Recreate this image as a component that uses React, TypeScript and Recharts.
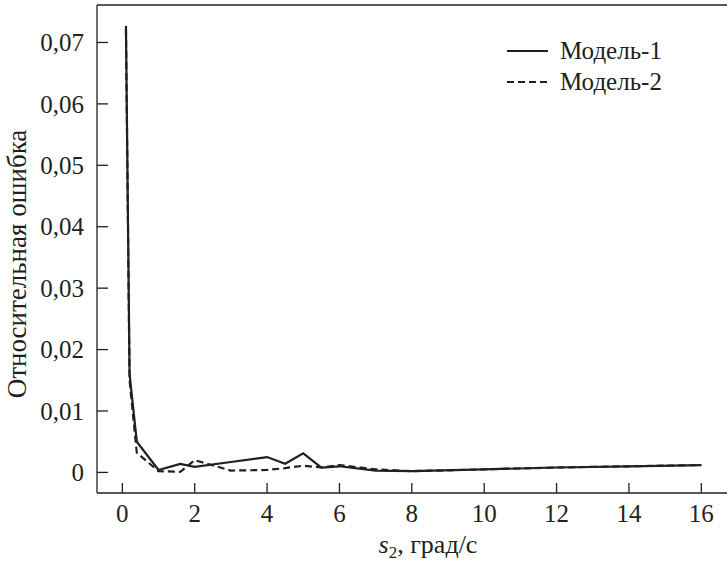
import { LineChart, Line, XAxis, YAxis, ReferenceLine } from "recharts";

const speeds = [0.1, 0.2, 0.4, 1, 1.6, 2, 3, 4, 4.5, 5, 5.5, 6, 7, 8, 10, 12, 14, 16];
const model1 = [0.0727, 0.016, 0.005, 0.0004, 0.0014, 0.0009, 0.0017, 0.0025, 0.0014, 0.0031, 0.0008, 0.001, 0.0003, 0.0002, 0.0005, 0.0008, 0.001, 0.0012];
const model2 = [0.0722, 0.015, 0.0032, 0.0002, 0.0001, 0.002, 0.0003, 0.0004, 0.0007, 0.0011, 0.0008, 0.0012, 0.0005, 0.0002, 0.0005, 0.0008, 0.001, 0.0012];
const yTicks = [0, 0.01, 0.02, 0.03, 0.04, 0.05, 0.06, 0.07];
const xTicks = [0, 2, 4, 6, 8, 10, 12, 14, 16];
const seriesNames = ["Модель-1", "Модель-2"];

const data = speeds.map((s, i) => ({ s, m1: model1[i], m2: model2[i] }));

const X_DOMAIN: [number, number] = [-0.7, 16.71];
const Y_DOMAIN: [number, number] = [-0.00335, 0.0761];

const FONT = '"Times New Roman", "Liberation Serif", Times, Tinos, "Noto Serif", "DejaVu Serif", serif';
const INK = "#231f20";
const FS = 25;

const fmt = (v: number) => (v === 0 ? "0" : v.toFixed(2).replace(".", ","));

function YTick({ x, y, payload }: any) {
  return (
    <g>
      <line x1={x} y1={y} x2={x + 11} y2={y} stroke={INK} strokeWidth={1.3} />
      <text x={x - 13} y={y} dy="0.35em" textAnchor="end" style={{ fontFamily: FONT }} fontSize={FS} fill={INK}>
        {fmt(payload.value)}
      </text>
    </g>
  );
}

function XTick({ x, y, payload }: any) {
  return (
    <g>
      <line x1={x} y1={y} x2={x} y2={y - 10} stroke={INK} strokeWidth={1.3} />
      <text x={x} y={y + 29} textAnchor="middle" style={{ fontFamily: FONT }} fontSize={FS} fill={INK}>
        {payload.value}
      </text>
    </g>
  );
}

// legend drawn outside the chart so it doesn't eat into the plot area
function LegendBox() {
  const dashes = [undefined, "7 4"];
  return (
    <div style={{ position: "absolute", left: 507, top: 35, fontFamily: FONT, fontSize: FS, color: INK }}>
      {seriesNames.map((name, i) => (
        <div key={name} style={{ display: "flex", alignItems: "center", height: 31 }}>
          <svg width={53} height={10}>
            <line x1={0} y1={5} x2={41} y2={5} stroke={INK} strokeWidth={2.2} strokeDasharray={dashes[i]} />
          </svg>
          <span>{name}</span>
        </div>
      ))}
    </div>
  );
}

export default function App() {
  return (
    <div style={{ position: "absolute", left: 0, top: 0, width: 727, height: 562, background: "#fff" }}>
      <LineChart width={727} height={562} data={data} margin={{ top: 5, right: 0, bottom: 0, left: 0 }}>
        <XAxis
          dataKey="s"
          type="number"
          domain={X_DOMAIN}
          ticks={xTicks}
          tick={<XTick />}
          tickLine={false}
          tickSize={0}
          tickMargin={0}
          height={69}
          allowDataOverflow
          axisLine={{ stroke: INK, strokeWidth: 1.3 }}
          label={{
            content: () => (
              <text x={428} y={553} textAnchor="middle" style={{ fontFamily: FONT }} fontSize={26} fill={INK}>
                <tspan fontStyle="italic">s</tspan>
                <tspan fontSize={17} dy={5}>2</tspan>
                <tspan dy={-5}>, град/с</tspan>
              </text>
            ),
          }}
        />
        <YAxis
          type="number"
          domain={Y_DOMAIN}
          ticks={yTicks}
          tick={<YTick />}
          tickLine={false}
          tickSize={0}
          tickMargin={0}
          width={97}
          allowDataOverflow
          axisLine={{ stroke: INK, strokeWidth: 1.3 }}
          label={{
            content: () => (
              <text x={0} y={0} transform="translate(26 264) rotate(-90)" textAnchor="middle" style={{ fontFamily: FONT }} fontSize={27} fill={INK}>
                Относительная ошибка
              </text>
            ),
          }}
        />
        <ReferenceLine y={Y_DOMAIN[1]} stroke={INK} strokeWidth={1.3} />
        <Line dataKey="m1" name={seriesNames[0]} stroke={INK} strokeWidth={2.2} dot={false} isAnimationActive={false} />
        <Line dataKey="m2" name={seriesNames[1]} stroke={INK} strokeWidth={2.2} strokeDasharray="7 4" dot={false} isAnimationActive={false} />
      </LineChart>
      <LegendBox />
    </div>
  );
}
